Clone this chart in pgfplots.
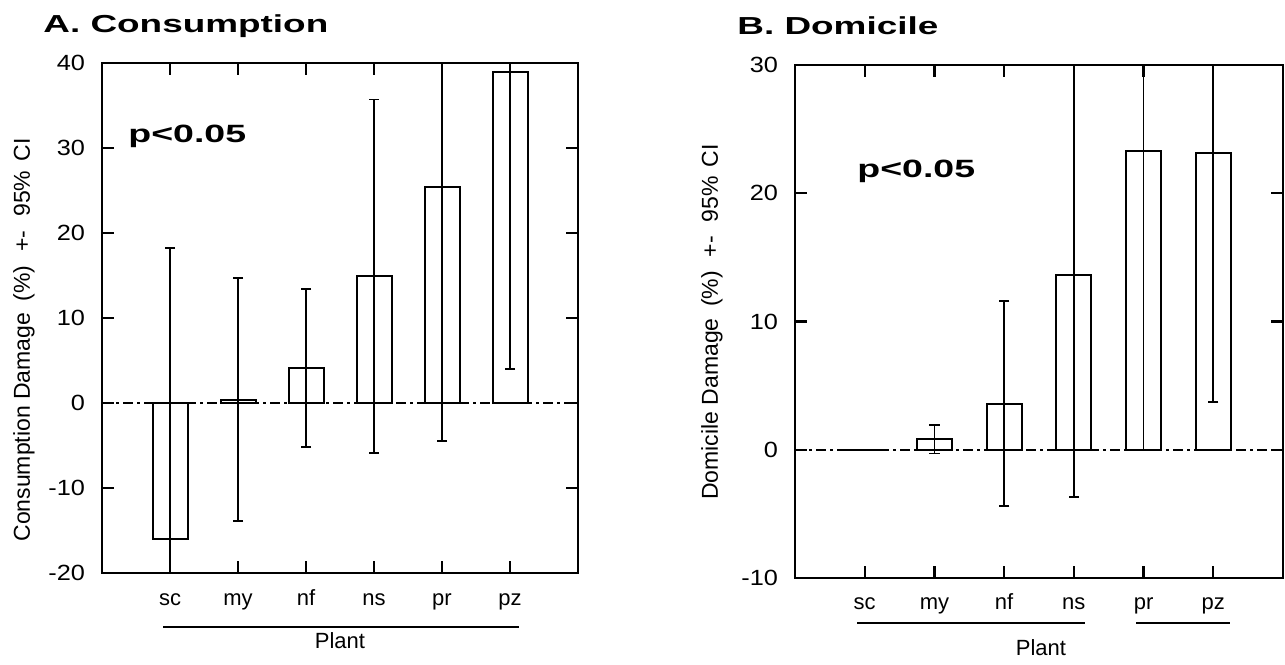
\documentclass[border=0pt]{standalone}
\usepackage{fontspec}
\setmainfont{Liberation Sans}
\usepackage{pgfplots}
\usepackage{pgfplotstable}
\pgfplotsset{compat=1.18}
\newfontfamily\titlefont[FakeStretch=1.5]{Liberation Sans}
\newfontfamily\pfont[FakeStretch=1.5]{Liberation Sans}
\newfontfamily\tickfont[FakeStretch=1.15]{Liberation Sans}

% Panel A: Consumption damage: mean, CI plus/minus, CI low/high
\pgfplotstableread{
x y ep em lo hi
1 -16.0 34.2 34.2 -50.2 18.2
2 0.4 14.3 14.3 -13.9 14.7
3 4.1 9.3 9.3 -5.2 13.4
4 15.0 20.7 20.9 -5.9 35.7
5 25.4 29.9 29.9 -4.5 55.3
6 39.0 35.0 35.0 4.0 74.0
}\dataA
% Panel B: Domicile damage
\pgfplotstableread{
x y ep em lo hi
1 0.0 0.0 0.0 nan nan
2 0.8 1.1 1.1 -0.3 1.9
3 3.6 8.0 8.0 -4.4 11.6
4 13.6 17.3 17.3 -3.7 30.9
5 23.3 23.3 23.3 0.0 46.6
6 23.1 19.4 19.4 3.7 42.5
}\dataB

\pgfplotsset{
  panel/.style={
    scale only axis, anchor=south west,
    xmin=0, xmax=7, xtick={1,2,3,4,5,6},
    xticklabels={sc,my,nf,ns,pr,pz},
    tick align=inside, xtick pos=both, ytick pos=both,
    xticklabel pos=bottom, yticklabel pos=left,
    major tick length=6pt,
    xtick style={line width=1.2pt, black},
    ytick style={line width=1.2pt, black},
    axis line style={line width=1.2pt},
    tick label style={font=\tickfont\fontsize{11}{13}\selectfont},
    yticklabel style={xshift=-5pt},
    xticklabel style={font=\fontsize{11}{13}\selectfont, anchor=base},
    clip=true, clip marker paths=true,
  },
  bars/.style={ybar, bar width=17.5pt, draw=black, line width=1pt, fill=none,
    error bars/.cd, y dir=both, y explicit, error mark=none,
    error bar style={line width=0.8pt, black, solid}},
  caps/.style={only marks, mark=-, mark size=2.6pt, black,
    mark options={line width=0.9pt, solid}},
  zeroline/.style={line width=0.8pt, black, dash pattern=on 5pt off 2pt on 1.5pt off 2pt},
}

\begin{document}
\begin{tikzpicture}
\useasboundingbox (0,0) rectangle (642.5pt,332pt);

% ---------- Panel A ----------
\begin{axis}[panel,
  at={(51pt,45.5pt)}, width=238pt, height=255pt,
  ymin=-20, ymax=40, ytick={-20,-10,0,10,20,30,40},
  yticklabels={-20,-10,0,10,20,30,40},
  xticklabel style={yshift=-16.5pt}]
\addplot[zeroline] coordinates {(0,0) (7,0)};
\addplot[bars] table[x=x, y=y, y error plus=ep, y error minus=em]{\dataA};
\addplot[caps] table[x=x, y=lo]{\dataA};
\addplot[caps] table[x=x, y=hi]{\dataA};
\end{axis}

% ---------- Panel B ----------
\begin{axis}[panel,
  at={(397.5pt,43pt)}, width=244pt, height=256.5pt,
  ymin=-10, ymax=30, ytick={-10,0,10,20,30},
  yticklabels={-10,0,10,20,30},
  xticklabel style={yshift=-16pt}]
\addplot[zeroline] coordinates {(0,0) (7,0)};
\addplot[bars] table[x=x, y=y, y error plus=ep, y error minus=em]{\dataB};
\addplot[caps] table[x=x, y=lo]{\dataB};
\addplot[caps] table[x=x, y=hi]{\dataB};
\end{axis}

% titles
\node[anchor=base west, inner sep=0] at (21.5pt,315.5pt)
  {\titlefont\bfseries\fontsize{12.3}{14}\selectfont A. Consumption};
\node[anchor=base west, inner sep=0] at (368.5pt,314.5pt)
  {\titlefont\bfseries\fontsize{12.3}{14}\selectfont B. Domicile};

% p-values
\node[anchor=base west, inner sep=0] at (64pt,260.5pt)
  {\pfont\bfseries\fontsize{12.5}{14}\selectfont p<0.05};
\node[anchor=base west, inner sep=0] at (428.5pt,243pt)
  {\pfont\bfseries\fontsize{12.5}{14}\selectfont p<0.05};

% y labels
\node[rotate=90, inner sep=0] at (12pt,162pt)
  {\fontsize{11.5}{13}\selectfont Consumption Damage\hspace{0.5em}(\%)\hspace{0.6em}+-\hspace{0.6em}95\%\hspace{0.4em}CI};
\node[rotate=90, inner sep=0] at (356pt,171pt)
  {\fontsize{11.5}{13}\selectfont Domicile Damage\hspace{0.5em}(\%)\hspace{0.6em}+-\hspace{0.6em}95\%\hspace{0.4em}CI};

% grouping lines and x labels
\draw[line width=1.2pt] (81.5pt,18.5pt) -- (259.5pt,18.5pt);
\draw[line width=1.2pt] (428.5pt,20.5pt) -- (542.5pt,20.5pt);
\draw[line width=1.2pt] (568pt,20.5pt) -- (615pt,20.5pt);
\node[anchor=base, inner sep=0] at (170pt,8pt) {\fontsize{11}{13}\selectfont Plant};
\node[anchor=base, inner sep=0] at (520.5pt,4.5pt) {\fontsize{11}{13}\selectfont Plant};
\end{tikzpicture}
\end{document}
